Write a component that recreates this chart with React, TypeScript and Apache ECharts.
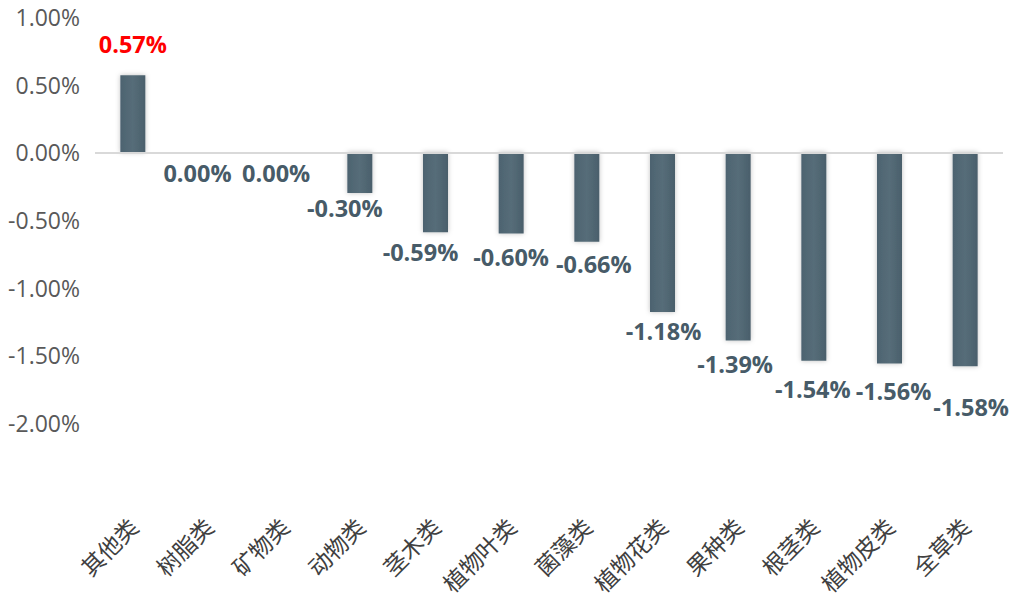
import React, { useEffect, useRef } from "react";
import * as echarts from "echarts";

const categories = ["其他类", "树脂类", "矿物类", "动物类", "茎木类", "植物叶类", "菌藻类", "植物花类", "果种类", "根茎类", "植物皮类", "全草类"];
const values = [0.57, 0.0, 0.0, -0.3, -0.59, -0.6, -0.66, -1.18, -1.39, -1.54, -1.56, -1.58];
const yTicks = { min: -2, max: 1, interval: 0.5 };

// label nudges (style only): [dx, dy from bar end to label centre]
const LABEL_NUDGE: [number, number][] = [
  [0, -31], [-11, 21], [-8, 21], [-15, 15], [-15, 20], [0, 23],
  [7, 22], [1, 19], [-3, 24], [-1, 28], [4, 28], [6, 41],
];

export default function App() {
  const ref = useRef<HTMLDivElement>(null);
  useEffect(() => {
    document.body.style.margin = "0";
    const chart = echarts.init(ref.current!, undefined, { renderer: "svg" });
    const half = 12;
    const data = values.map((v, i) => {
      const [dx, dy] = LABEL_NUDGE[i];
      const pos = v > 0 ? "top" : "bottom";
      return {
        value: v,
        label: {
          position: pos,
          distance: 0,
          offset: v > 0 ? [dx, dy + half] : [dx, dy - half],
          color: i === 0 ? "#ff0000" : "#475b68",
        },
      };
    });
    chart.setOption({
      animation: false,
      grid: { left: 95, right: 14, top: 17, bottom: 175, containLabel: false, outerBoundsMode: "none" },
      xAxis: {
        type: "category",
        data: categories,
        axisLine: { show: false, onZero: false },
        axisTick: { show: false },
        axisLabel: {
          rotate: 45,
          margin: 99,
          fontSize: 23,
          color: "#404040",
          fontFamily: "Noto Sans CJK SC",
          interval: 0,
        },
      },
      yAxis: {
        type: "value",
        min: yTicks.min,
        max: yTicks.max,
        interval: yTicks.interval,
        splitLine: { show: false },
        axisLine: { show: false },
        axisTick: { show: false },
        axisLabel: {
          fontSize: 23,
          color: "#595959",
          margin: 15,
          fontFamily: "Open Sans",
          formatter: (v: number) => v.toFixed(2) + "%",
        },
      },
      series: [
        {
          type: "bar",
          data,
          barWidth: 25,
          itemStyle: {
            color: new echarts.graphic.LinearGradient(0, 0, 1, 0, [
              { offset: 0, color: "#4d6370" },
              { offset: 0.5, color: "#566d79" },
              { offset: 1, color: "#4a5f6b" },
            ]),
            shadowBlur: 5,
            shadowColor: "rgba(0,0,0,0.25)",
          },
          label: {
            show: true,
            fontSize: 23.5,
            fontWeight: "bold",
            fontFamily: "Open Sans",
            formatter: (p: any) => Number(p.value).toFixed(2) + "%",
          },
          markLine: {
            silent: true,
            symbol: "none",
            label: { show: false },
            lineStyle: { color: "#d9d9d9", width: 2, type: "solid" },
            data: [{ yAxis: 0 }],
          },
        },
      ],
    });
    return () => chart.dispose();
  }, []);
  return <div ref={ref} style={{ width: 1017, height: 598 }} />;
}
